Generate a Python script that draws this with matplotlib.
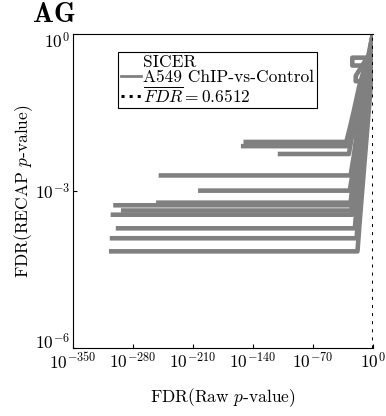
import numpy as np
import matplotlib
matplotlib.use('Agg')
import matplotlib.pyplot as plt
import matplotlib.transforms as mtransforms
from matplotlib.lines import Line2D
from matplotlib.ticker import FuncFormatter

plt.rcParams['font.family'] = 'serif'
plt.rcParams['font.serif'] = ['cmr10']
plt.rcParams['mathtext.fontset'] = 'cm'
plt.rcParams['axes.unicode_minus'] = False
plt.rcParams['axes.formatter.use_mathtext'] = True

# log10 of FDR(raw p-value) and FDR(RECAP p-value), one list per replicate run
raw_log10 = [
    [-151, -31, -27, -22, -16, -9, -24, -24, -5, -2, 0],
    [-154, -30, -26, -20, -13, -7, -2, 0],
    [-111, -28, -25, -19, -14, -8, -3, 0],
    [-250, -26, -22, -18, -12, -6, -2, 0],
    [-204, -27, -23, -19, -13, -8, -20, -20, -3, 0],
    [-303, -25, -22, -17, -11, -6, -2, 0],
    [-253, -26, -23, -18, -12, -7, -2, 0],
    [-306, -24, -21, -16, -10, -5, -1, 0],
    [-294, -25, -22, -17, -11, -6, -2, 0],
    [-300, -21, -18, -14, -9, -5, -1, 0],
    [-307, -19, -16, -12, -8, -4, -1, 0],
    [-308, -18, -15, -11, -7, -3, -1, 0],
]
recap_log10 = [
    [-2.06, -2.06, -1.80, -1.45, -1.00, -0.60, -0.60, -0.45, -0.45, -0.15, 0],
    [-2.14, -2.14, -1.90, -1.50, -1.05, -0.55, -0.15, 0],
    [-2.29, -2.29, -2.00, -1.60, -1.20, -0.75, -0.30, 0],
    [-2.70, -2.70, -2.30, -1.80, -1.30, -0.80, -0.30, 0],
    [-2.99, -2.99, -2.60, -2.10, -1.50, -0.90, -0.90, -0.80, -0.35, 0],
    [-3.27, -3.27, -2.85, -2.30, -1.60, -1.00, -0.40, 0],
    [-3.22, -3.22, -2.80, -2.20, -1.60, -0.95, -0.40, 0],
    [-3.45, -3.45, -3.00, -2.40, -1.70, -1.00, -0.35, 0],
    [-3.37, -3.37, -2.90, -2.35, -1.65, -1.00, -0.40, 0],
    [-3.71, -3.71, -3.10, -2.50, -1.80, -1.00, -0.35, 0],
    [-3.90, -3.90, -3.30, -2.60, -1.80, -1.00, -0.35, 0],
    [-4.15, -4.15, -3.50, -2.70, -1.90, -1.10, -0.40, 0],
]
mean_fdr = 0.6512
x_ticks = [-350, -280, -210, -140, -70, 0]
y_ticks = [-6, -3, 0]

fig = plt.figure(figsize=(3.86, 4.16), dpi=100)
ax = fig.add_axes([0.189, 0.163, 0.777, 0.755])

for xs, ys in zip(raw_log10, recap_log10):
    ax.plot(xs, ys, color='gray', linewidth=3.3, solid_capstyle='butt')

ax.axvline(np.log10(mean_fdr), color='black', linestyle=':', linewidth=2.2)

ax.set_xlim(-350, 0)
ax.set_ylim(-6, 0)
ax.set_xticks(x_ticks)
ax.set_yticks(y_ticks)
fmt = FuncFormatter(lambda v, pos: '$10^{%d}$' % int(round(v)))
ax.xaxis.set_major_formatter(fmt)
ax.yaxis.set_major_formatter(fmt)
ax.tick_params(direction='in', length=3, labelsize=12.5, pad=2)

# end labels on the y axis are nudged inward, as in the original
ytick_objs = ax.yaxis.get_major_ticks()
for tk, dy in ((ytick_objs[0], 5), (ytick_objs[-1], -4)):
    lab = tk.label1
    lab.set_transform(lab.get_transform() +
                      mtransforms.ScaledTranslation(0, dy / 72, fig.dpi_scale_trans))

ax.spines['right'].set_visible(False)

ax.set_xlabel('FDR(Raw $p$-value)', fontsize=12.5, labelpad=11)
ax.set_ylabel('FDR(RECAP $p$-value)', fontsize=12.5, labelpad=0)

handles = [
    Line2D([], [], color='none', label='SICER'),
    Line2D([], [], color='gray', linewidth=2, label='A549 ChIP-vs-Control'),
    Line2D([], [], color='black', linestyle=':', linewidth=2.2,
           label=r'$\overline{FDR} = %.4f$' % mean_fdr),
]
leg = ax.legend(handles=handles, loc='upper left', bbox_to_anchor=(0.15, 0.943),
                borderaxespad=0, fontsize=12.5, handlelength=1.15, handletextpad=0.15,
                labelspacing=0.0, borderpad=0.15, fancybox=False, framealpha=1)
leg.get_frame().set_edgecolor('black')
leg.get_frame().set_linewidth(0.8)

fig.text(0.085, 0.947, 'AG', fontfamily='cmb10', fontsize=20)

fig.savefig('out.png', dpi=100)
